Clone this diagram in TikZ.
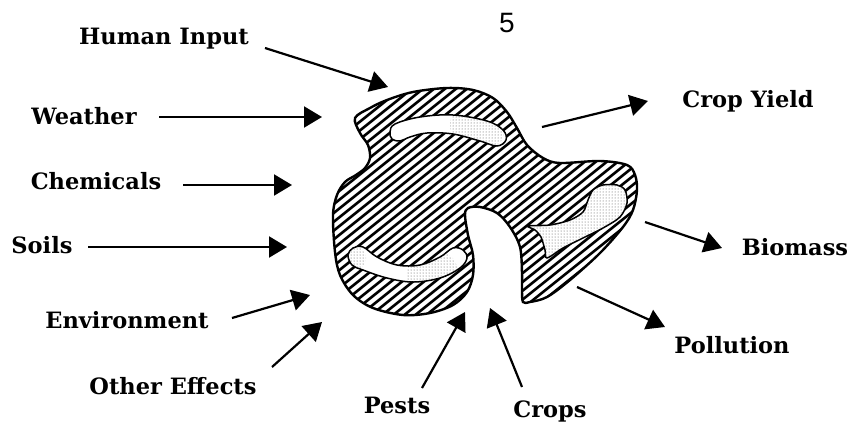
\documentclass[tikz,border=0pt]{standalone}
\usepackage{fontspec}
\setmainfont{DejaVu Serif}
\newfontfamily\pagefont{Liberation Sans}
\usetikzlibrary{arrows.meta,patterns}
\tikzset{
  lbl/.style={font=\bfseries\fontsize{22.5}{26}\selectfont,anchor=base,inner sep=0pt},
  arr/.style={line width=2.2pt,-{Triangle[length=18pt,width=21pt]}},
  hatchline/.style={line width=2.6pt},
  spot/.style={fill=white,line width=1.5pt},
  stipple/.style={pattern=dots,pattern color=black!70}
}
\def\blobpath{plot[smooth cycle,tension=0.55] coordinates {(355,118) (370,108) (387,100) (413,92) (447,88) (473,90) (493,98) (507,112) (517,128) (527,145) (543,158) (560,163) (600,161) (627,165) (635,175) (637,190) (633,210) (623,227) (600,253) (570,280) (547,297) (530,302) (523,302) (522,290) (522,273) (520,247) (510,227) (497,213) (480,207) (468,208) (465,215) (468,235) (473,255) (473,275) (467,292) (453,305) (430,313) (403,315) (373,308) (353,295) (340,275) (335,252) (333,215) (337,195) (345,182) (356,175) (365,168) (370,158) (368,145) (360,133)}}
\def\topbean{plot[smooth cycle,tension=0.6] coordinates {(390,132) (395,124) (420,117) (453,115) (487,121) (503,130) (506,140) (497,146) (480,141) (453,134) (427,133) (410,137) (400,141) (392,139)}}
\def\lowbean{plot[smooth cycle,tension=0.6] coordinates {(348,255) (353,248) (363,247) (377,257) (397,265) (420,265) (440,257) (453,248) (463,250) (467,258) (460,268) (440,278) (413,282) (387,278) (363,270) (352,265)}}
\def\hornpath{plot[smooth cycle,tension=0.5] coordinates {(528,226) (550,225) (570,220) (583,212) (588,200) (593,190) (603,185) (617,185) (625,190) (627,203) (620,217) (603,228) (583,238) (563,248) (547,258) (545,250) (541,237) (535,230)}}
\begin{document}
\begin{tikzpicture}[x=1pt,y=-1pt]
\useasboundingbox (0,0) rectangle (850,426);
% the system
\begin{scope}
\clip \blobpath;
\foreach \c in {365,376,...,815}
\draw[hatchline] (\c-300,340) -- ++(375,-300);
\end{scope}
\foreach \p in {\topbean,\lowbean,\hornpath}
\filldraw[spot] \p;
\begin{scope}
\clip \topbean;
\fill[stipple] (478,125) circle (28);
\end{scope}
\begin{scope}
\clip \lowbean;
\fill[stipple] (352,258) circle (14) (433,275) circle (26);
\end{scope}
\begin{scope}
\clip \hornpath;
\fill[stipple] (528,180) rectangle (630,260);
\end{scope}
\draw[line width=2.4pt] \blobpath;
% labels
\node[font=\pagefont\fontsize{28}{30}\selectfont,anchor=base,inner sep=0pt] (page) at (507,32) {5};
\node[lbl] (human) at (164,44) {Human Input};
\node[lbl] (weather) at (84,124) {Weather};
\node[lbl] (chem) at (96,189) {Chemicals};
\node[lbl] (soils) at (42,253) {Soils};
\node[lbl] (env) at (127,328) {Environment};
\node[lbl] (other) at (173,394) {Other Effects};
\node[lbl] (pests) at (397,413) {Pests};
\node[lbl] (crops) at (550,417) {Crops};
\node[lbl] (yield) at (748,107) {Crop Yield};
\node[lbl] (biomass) at (795,255) {Biomass};
\node[lbl] (pollution) at (732,353) {Pollution};
% arrow ends
\path (265,48) coordinate (human-s) (388,87) coordinate (human-e)
(159,117) coordinate (weather-s) (322,117) coordinate (weather-e)
(183,185) coordinate (chem-s) (292,185) coordinate (chem-e)
(88,247) coordinate (soils-s) (287,247) coordinate (soils-e)
(232,318) coordinate (env-s) (310,295) coordinate (env-e)
(272,367) coordinate (other-s) (322,322) coordinate (other-e)
(422,388) coordinate (pests-s) (465,312) coordinate (pests-e)
(522,387) coordinate (crops-s) (490,308) coordinate (crops-e)
(542,127) coordinate (yield-s) (648,101) coordinate (yield-e)
(645,222) coordinate (biomass-s) (722,248) coordinate (biomass-e)
(577,287) coordinate (pollution-s) (665,327) coordinate (pollution-e);
\foreach \x in {human,weather,chem,soils,env,other,pests,crops,yield,biomass,pollution}
\draw[arr] (\x-s) -- (\x-e);
\end{tikzpicture}
\end{document}
